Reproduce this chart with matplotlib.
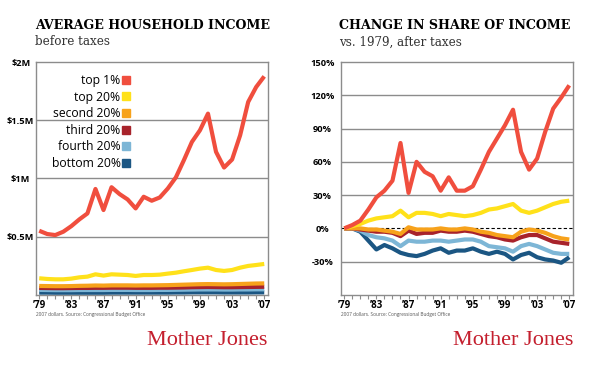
import numpy as np
import matplotlib
matplotlib.use("Agg")
import matplotlib.pyplot as plt
from matplotlib.lines import Line2D

# data
years = np.arange(1979, 2008)
groups = ["top 1%", "top 20%", "second 20%", "third 20%", "fourth 20%", "bottom 20%"]
colors = ["#f04e3e", "#ffe11a", "#f7a21b", "#a8232b", "#7db6d6", "#1b5683"]

# average household income before taxes, millions of 2007 dollars
inc_top1 = [0.551, 0.523, 0.514, 0.543, 0.591, 0.649, 0.700, 0.910, 0.729, 0.925, 0.866,
            0.820, 0.743, 0.843, 0.809, 0.837, 0.914, 1.009, 1.157, 1.314, 1.414, 1.557,
            1.229, 1.094, 1.163, 1.371, 1.657, 1.786, 1.877]
inc_top20 = [0.143, 0.137, 0.134, 0.134, 0.140, 0.151, 0.157, 0.177, 0.166, 0.177, 0.174,
             0.171, 0.163, 0.171, 0.171, 0.174, 0.183, 0.191, 0.203, 0.214, 0.226, 0.234,
             0.214, 0.206, 0.214, 0.234, 0.249, 0.257, 0.266]
inc_second = [0.077, 0.076, 0.075, 0.075, 0.076, 0.078, 0.079, 0.081, 0.080, 0.082, 0.082,
              0.082, 0.081, 0.082, 0.082, 0.083, 0.084, 0.086, 0.088, 0.090, 0.092, 0.093,
              0.092, 0.091, 0.092, 0.094, 0.096, 0.098, 0.099]
inc_third = [0.060, 0.059, 0.058, 0.058, 0.059, 0.060, 0.060, 0.061, 0.061, 0.062, 0.062,
             0.062, 0.061, 0.061, 0.061, 0.062, 0.062, 0.063, 0.064, 0.066, 0.067, 0.068,
             0.067, 0.066, 0.066, 0.067, 0.068, 0.069, 0.070]
inc_fourth = [0.043, 0.042, 0.041, 0.041, 0.041, 0.042, 0.042, 0.042, 0.042, 0.043, 0.043,
              0.043, 0.042, 0.042, 0.042, 0.043, 0.043, 0.044, 0.045, 0.046, 0.047, 0.047,
              0.047, 0.046, 0.046, 0.047, 0.047, 0.048, 0.048]
inc_bottom = [0.020, 0.020, 0.019, 0.019, 0.019, 0.019, 0.019, 0.019, 0.019, 0.020, 0.020,
              0.020, 0.020, 0.020, 0.020, 0.020, 0.020, 0.021, 0.021, 0.022, 0.022, 0.022,
              0.022, 0.021, 0.021, 0.021, 0.021, 0.022, 0.022]

# change in share of after-tax income vs 1979, percent
chg_top1 = [0, 3, 7, 17, 28, 34, 43, 77, 32, 60, 51, 47, 34, 46, 34, 34, 38, 53, 69, 81,
            93, 107, 69, 53, 63, 87, 108, 118, 129]
chg_top20 = [0, 2, 4, 7, 9, 10, 11, 16, 10, 14, 14, 13, 11, 13, 12, 11, 12, 14, 17, 18,
             20, 22, 16, 14, 16, 19, 22, 24, 25]
chg_second = [0, 0, 0, -1, -1, -2, -3, -5, 1, -1, -1, -1, 0, -1, -1, 0, -1, -3, -4, -6,
              -7, -8, -3, -1, -2, -4, -7, -9, -10]
chg_third = [0, 0, -1, -2, -3, -3, -4, -7, -2, -5, -4, -4, -2, -3, -3, -2, -3, -5, -7, -8,
             -10, -11, -8, -6, -6, -9, -12, -13, -14]
chg_fourth = [0, 0, -2, -6, -8, -9, -11, -16, -11, -12, -12, -11, -11, -12, -11, -10, -10,
              -12, -16, -17, -18, -21, -16, -14, -16, -19, -22, -23, -23]
chg_bottom = [0, 0, -3, -11, -19, -15, -18, -22, -24, -25, -23, -20, -18, -22, -20, -20,
              -18, -21, -23, -21, -23, -28, -24, -22, -26, -28, -29, -31, -26]

inc_series = [inc_top1, inc_top20, inc_second, inc_third, inc_fourth, inc_bottom]
chg_series = [chg_top1, chg_top20, chg_second, chg_third, chg_fourth, chg_bottom]

xtick_years = [1979, 1983, 1987, 1991, 1995, 1999, 2003, 2007]
xtick_labels = ["\u201979", "\u201983", "\u201987", "\u201991", "\u201995", "\u201999", "\u201903", "\u201907"]
inc_ticks = [0.5, 1.0, 1.5, 2.0]
inc_labels = ["$0.5M", "$1M", "$1.5M", "$2M"]
chg_ticks = [-30, 0, 30, 60, 90, 120, 150]
chg_labels = ["-30%", "0%", "30%", "60%", "90%", "120%", "150%"]

fig = plt.figure(figsize=(5.9, 3.65), dpi=100)
ax1 = fig.add_axes([0.061, 0.192, 0.393, 0.638])
ax2 = fig.add_axes([0.578, 0.192, 0.393, 0.638])

grey = "#8c8c8c"
sans = "Open Sans"


def style(ax, ticks, labels, pad):
    ax.set_xlim(1978.6, 2007.45)
    ax.set_xticks(xtick_years)
    ax.set_xticklabels(xtick_labels, fontsize=7, fontweight="bold", family=sans)
    ax.set_xticks(years, minor=True)
    ax.tick_params(axis="x", which="both", direction="out", length=3, width=0.8,
                   color=grey, pad=1)
    ax.set_yticks(ticks)
    ax.set_yticklabels(labels, fontsize=6.7, fontweight="bold", family=sans, ha="center")
    ax.tick_params(axis="y", length=0, pad=pad)
    for s in ax.spines.values():
        s.set_color(grey)
        s.set_linewidth(1)


# left: average household income
for vals, c in zip(inc_series[::-1], colors[::-1]):
    ax1.plot(years, vals, color=c, lw=3, solid_capstyle="butt", zorder=3)
ax1.set_ylim(0, 2)
for g in inc_ticks[:-1]:
    ax1.axhline(g, color=grey, lw=1, zorder=1)
style(ax1, inc_ticks, inc_labels, 11)

handles = [Line2D([], [], marker="s", ls="none", color=c, markersize=5.5) for c in colors]
ax1.legend(handles, groups, loc="upper right", bbox_to_anchor=(0.43, 0.975),
           markerfirst=False, frameon=False, handlelength=0.6, handletextpad=0.15,
           labelspacing=0.3, borderpad=0, prop={"family": sans, "size": 8.7})

# right: change in share of income
for vals, c in zip(chg_series[::-1], colors[::-1]):
    ax2.plot(years, vals, color=c, lw=3, solid_capstyle="butt", zorder=3)
ax2.set_ylim(-60, 150)
for g in [-30, 30, 60, 90, 120]:
    ax2.axhline(g, color=grey, lw=1, zorder=1)
ax2.axhline(0, color="black", lw=0.8, ls=(0, (3, 2)), zorder=1)
style(ax2, chg_ticks, chg_labels, 13.5)

# titles
fig.text(0.059, 0.93, "AVERAGE HOUSEHOLD INCOME", family="DejaVu Serif",
         fontweight="bold", fontsize=9.1, va="center")
fig.text(0.059, 0.885, "before taxes", family="DejaVu Serif", fontsize=8.6,
         color="#333333", va="center")
fig.text(0.575, 0.93, "CHANGE IN SHARE OF INCOME", family="DejaVu Serif",
         fontweight="bold", fontsize=9.1, va="center")
fig.text(0.575, 0.885, "vs. 1979, after taxes", family="DejaVu Serif", fontsize=8.6,
         color="#333333", va="center")

# source notes
for x in [0.061, 0.578]:
    fig.text(x, 0.138, "2007 dollars. Source: Congressional Budget Office", family=sans,
             fontsize=3.4, color="#555555", va="center")

# logo text
for x in [0.454, 0.971]:
    fig.text(x, 0.068, "Mother Jones", family="Liberation Serif", fontsize=16,
             color="#c41f2e", ha="right", va="center")

fig.savefig("out.png", dpi=100)
